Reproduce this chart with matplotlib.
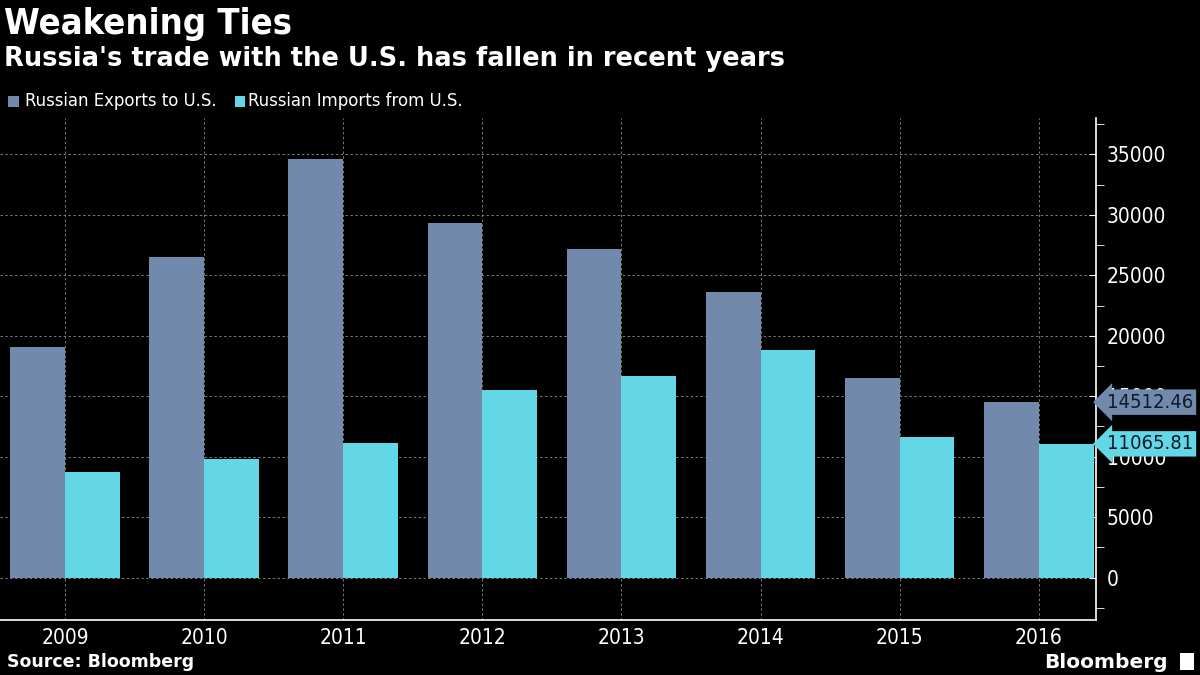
import numpy as np
import matplotlib.pyplot as plt
from matplotlib.patches import Rectangle
from matplotlib.ticker import MultipleLocator

years = ["2009", "2010", "2011", "2012", "2013", "2014", "2015", "2016"]
exports = [19050, 26550, 34650, 29350, 27150, 23650, 16550, 14512.46]
imports = [8700, 9850, 11100, 15550, 16700, 18800, 11600, 11065.81]

exp_color = "#7189AB"
imp_color = "#64D7E6"

plt.rcParams["font.family"] = "DejaVu Sans"
plt.rcParams["font.stretch"] = "condensed"
fig = plt.figure(figsize=(12, 6.75), dpi=100, facecolor="black")
ax = fig.add_axes([0.0, 0.0815, 0.913, 0.7435], facecolor="black")

x = np.arange(len(years))
w = 0.395
ax.bar(x - w / 2, exports, w, color=exp_color, zorder=3)
ax.bar(x + w / 2, imports, w, color=imp_color, zorder=3)

ax.set_xlim(-0.47, 7.41)
ax.set_ylim(-3500, 38000)
ax.set_xticks(x)
ax.set_xticklabels(years)
ax.yaxis.set_minor_locator(MultipleLocator(2500))
ax.yaxis.tick_right()
ax.set_yticks(np.arange(0, 35001, 5000))
ax.set_yticklabels([str(v) for v in range(0, 35001, 5000)])

ax.grid(True, color="#7a7a7a", linestyle=(0, (2.5, 2.5)), linewidth=0.7, zorder=1)
for s in ["top", "left"]:
    ax.spines[s].set_visible(False)
for s in ["bottom", "right"]:
    ax.spines[s].set_color("white")
    ax.spines[s].set_linewidth(1.2)

ax.tick_params(axis="x", colors="white", labelsize=15, length=0, pad=6)
ax.tick_params(axis="y", which="major", colors="white", labelsize=15, length=5,
               direction="in", pad=8)
ax.tick_params(axis="y", which="minor", colors="white", length=6, direction="out")

# value tags at the right
for val, col in [(exports[-1], exp_color), (imports[-1], imp_color)]:
    ax.annotate(f"{val:.2f}", xy=(1.0, val), xycoords=("axes fraction", "data"),
                xytext=(8, 0), textcoords="offset points", va="center", ha="left",
                fontsize=14.5, color="#111a2a", zorder=5,
                bbox=dict(boxstyle="larrow,pad=0.16", fc=col, ec="none"),
                annotation_clip=False)

fig.text(0.003, 0.965, "Weakening Ties", color="white", fontsize=26,
         fontweight="bold", va="center", ha="left")
fig.text(0.003, 0.912, "Russia's trade with the U.S. has fallen in recent years",
         color="white", fontsize=18.5, fontweight="bold", fontstretch="normal",
         va="center", ha="left")

# legend
fig.patches.append(Rectangle((0.007, 0.841), 0.0085, 0.0165, transform=fig.transFigure,
                             fc=exp_color, ec="none"))
fig.text(0.021, 0.851, "Russian Exports to U.S.", color="white", fontsize=13.2,
         va="center", ha="left")
fig.patches.append(Rectangle((0.196, 0.841), 0.0085, 0.0165, transform=fig.transFigure,
                             fc=imp_color, ec="none"))
fig.text(0.207, 0.851, "Russian Imports from U.S.", color="white", fontsize=13.2,
         va="center", ha="left")

fig.text(0.006, 0.019, "Source: Bloomberg", color="white", fontsize=12.5,
         fontweight="bold", fontstretch="normal", va="center", ha="left")
fig.text(0.973, 0.019, "Bloomberg", color="white", fontsize=14.5,
         fontweight="bold", fontstretch="normal", va="center", ha="right")
fig.patches.append(Rectangle((0.983, 0.008), 0.012, 0.024, transform=fig.transFigure,
                             fc="white", ec="none"))

fig.savefig("out.png", dpi=100, facecolor="black")
